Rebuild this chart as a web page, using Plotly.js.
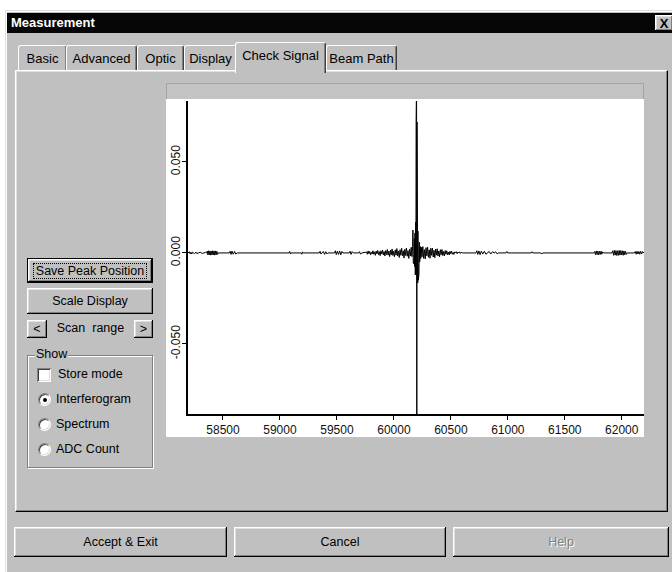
<!DOCTYPE html>
<html>
<head>
<meta charset="utf-8">
<script src="https://cdn.plot.ly/plotly-3.0.1.min.js"></script>
<style>
html, body { margin: 0; padding: 0; }
body { width: 672px; height: 572px; overflow: hidden; background: #fff; position: relative;
       font-family: "Liberation Sans", Arial, sans-serif; color: #000; }
.a { position: absolute; box-sizing: border-box; }
.raised { background: #c0c0c0;
  box-shadow: inset -1px -1px #000, inset 1px 1px #fff, inset -2px -2px #808080, inset 2px 2px #dfdfdf; }
.btn { display: flex; align-items: center; justify-content: center; font-size: 12.5px; white-space: pre; }
.tab { background: #c0c0c0; border-top: 1px solid #fff; border-left: 1px solid #fff; border-right: 1px solid #404040;
  border-radius: 3px 3px 0 0; box-shadow: inset -1px 0 #808080; font-size: 13px; line-height: 15px;
  text-align: center; padding-top: 5px; }
.lbl { font-size: 12.5px; line-height: 15px; white-space: pre; }
.radio { width: 13px; height: 13px; border-radius: 50%; background: #fff;
  border: 1px solid; border-color: #808080 #fff #fff #808080;
  box-shadow: inset 1px 1px #404040, inset -1px -1px #dfdfdf; }
.dot { position: absolute; left: 3.5px; top: 3.5px; width: 4px; height: 4px; border-radius: 50%; background: #000; }
</style>
</head>
<body>
<!-- dialog frame -->
<div class="a" style="left:5px;top:10px;width:667px;height:562px;background:#c0c0c0;box-shadow:inset 1px 1px #dfdfdf, inset 2px 2px #fff;"></div>
<!-- title bar -->
<div class="a" style="left:7px;top:13px;width:665px;height:20px;background:#050505;"></div>
<div class="a" style="left:11px;top:15px;font-weight:bold;font-size:13px;line-height:16px;color:#fff;">Measurement</div>
<div class="a raised btn" style="left:655px;top:15px;width:18px;height:16px;font-weight:bold;font-size:13px;">X</div>

<!-- tab strip -->
<div class="a tab" style="left:18px;top:45px;width:49px;height:26px;">Basic</div>
<div class="a tab" style="left:66px;top:45px;width:71px;height:26px;">Advanced</div>
<div class="a tab" style="left:137px;top:45px;width:47px;height:26px;">Optic</div>
<div class="a tab" style="left:184px;top:45px;width:53px;height:26px;">Display</div>
<div class="a tab" style="left:326px;top:45px;width:71px;height:26px;">Beam Path</div>

<!-- tab page -->
<div class="a" style="left:15px;top:70px;width:653px;height:442px;background:#c0c0c0;
  border-top:1px solid #fff;border-left:1px solid #fff;border-right:1px solid #000;border-bottom:1px solid #000;
  box-shadow:inset -1px -1px #808080, inset 1px 1px #dfdfdf;"></div>
<!-- active tab -->
<div class="a tab" style="left:235px;top:42px;width:91px;height:31px;padding-top:5px;z-index:2;">Check Signal</div>

<!-- signal plot frame -->
<div class="a" style="left:166px;top:83px;width:478px;height:17px;background:#c3c3c3;border:1px solid #a4a4a4;"></div>
<div class="a" id="plot" style="left:166px;top:99px;width:478px;height:338px;background:#fff;"></div>

<!-- controls on the left -->
<div class="a" style="left:27px;top:258px;width:126px;height:25px;border:1px solid #000;">
  <div class="a raised btn" style="left:0;top:0;width:124px;height:23px;">
    <span style="border:1px dotted #000;padding:0 2px;line-height:14px;">Save Peak Position</span>
  </div>
</div>
<div class="a raised btn" style="left:27px;top:288px;width:126px;height:26px;">Scale Display</div>
<div class="a raised btn" style="left:27px;top:320px;width:20px;height:18px;">&lt;</div>
<div class="a lbl" style="left:47px;top:321px;width:87px;text-align:center;">Scan  range</div>
<div class="a raised btn" style="left:134px;top:320px;width:19px;height:18px;">&gt;</div>

<div class="a" style="left:27px;top:355px;width:126px;height:113px;border:1px solid #808080;box-shadow:1px 1px 0 #fff, inset 1px 1px 0 #fff;"></div>
<div class="a lbl" style="left:35px;top:347px;background:#c0c0c0;padding:0 1px;">Show</div>

<div class="a" style="left:37px;top:368px;width:14px;height:14px;background:#fff;
  box-shadow:inset 1px 1px #808080, inset -1px -1px #fff, inset 2px 2px #404040, inset -2px -2px #dfdfdf;"></div>
<div class="a lbl" style="left:58px;top:367px;">Store mode</div>

<div class="a radio" style="left:38px;top:393px;"><div class="dot"></div></div>
<div class="a lbl" style="left:56px;top:392px;">Interferogram</div>
<div class="a radio" style="left:38px;top:418px;"></div>
<div class="a lbl" style="left:56px;top:417px;">Spectrum</div>
<div class="a radio" style="left:38px;top:443px;"></div>
<div class="a lbl" style="left:56px;top:442px;">ADC Count</div>

<!-- dialog buttons -->
<div class="a raised btn" style="left:14px;top:527px;width:213px;height:30px;">Accept &amp; Exit</div>
<div class="a raised btn" style="left:234px;top:527px;width:212px;height:30px;">Cancel</div>
<div class="a raised btn" style="left:453px;top:527px;width:216px;height:30px;color:#808080;text-shadow:1px 1px 0 #fff;">Help</div>

<script>
// Optical path position (x) and detector signal (y) of the interferogram
const opd = [
  58193, 58205, 58212, 58218, 58226, 58232, 58240, 58250, 58262, 58270, 58284, 58300, 58318, 58330, 58346, 58356,
  58362, 58368, 58374, 58380, 58386, 58392, 58398, 58404, 58410, 58416, 58422, 58428, 58434, 58440, 58446, 58452, 58458,
  58555, 58563, 58571, 58579, 58590, 58602, 58612, 58624,
  59080, 59086, 59092, 59098, 59186, 59192, 59198, 59204,
  59345, 59352, 59360, 59370, 59380, 59392, 59402, 59412, 59420,
  59478, 59486, 59494, 59504, 59514, 59524, 59534, 59544, 59552,
  59608, 59616, 59624, 59634, 59644,
  59690, 59698, 59706, 59720,
  59760, 59767, 59774, 59781, 59788, 59795, 59802, 59809, 59816, 59823,
  59830, 59837, 59844, 59851, 59858, 59865, 59872, 59879, 59886, 59893,
  59900, 59907, 59914, 59921, 59928, 59935, 59942, 59949, 59956, 59963,
  59970, 59977, 59984, 59991, 59998, 60005, 60012, 60019, 60026, 60033,
  60040, 60047, 60054, 60061, 60068, 60075, 60082, 60089, 60096, 60103,
  60110, 60117, 60124, 60131, 60138, 60145, 60152, 60158, 60164,
  60167, 60170, 60173, 60176, 60179, 60182, 60185, 60188, 60191, 60193,
  60195, 60197, 60199, 60201, 60203, 60205, 60207, 60209, 60211, 60214,
  60217, 60220, 60223, 60226, 60228, 60230, 60233, 60236,
  60240, 60247, 60254, 60261, 60268, 60275, 60282, 60289, 60296, 60303,
  60310, 60317, 60324, 60331, 60338, 60345, 60352, 60359, 60366, 60373,
  60380, 60387, 60394, 60401, 60408, 60415, 60422, 60429, 60436, 60443,
  60450, 60457, 60464, 60471, 60478, 60485, 60492, 60499, 60506, 60513,
  60520, 60527, 60534, 60541, 60548, 60555, 60562, 60569, 60576, 60583,
  60590, 60597, 60604,
  60720, 60728, 60736, 60746, 60756, 60768, 60780, 60794, 60808, 60822, 60836, 60850, 60866, 60880, 60894, 60906, 60916,
  60984, 60991, 60998, 61204, 61211, 61218, 61290, 61298, 61306,
  61755, 61762, 61769, 61776, 61783, 61790, 61797, 61804, 61811, 61818, 61825, 61832, 61840,
  61914, 61921, 61928, 61935, 61942, 61949, 61956, 61963, 61970, 61977,
  61984, 61991, 61998, 62005, 62012, 62019, 62026, 62033, 62040, 62047,
  62080, 62110, 62118, 62126, 62134, 62142, 62150, 62158, 62166, 62174, 62182, 62195
];
const signal = [
  0, 0.0006, -0.0005, 0.0004, -0.0006, 0.0005, 0, -0.0004, 0.0005, -0.0003, 0, 0.0004, -0.0003, 0, 0.0003, 0,
  0.0010, -0.0011, 0.0012, -0.0010, 0.0011, -0.0012, 0.0010, -0.0011, 0.0012, -0.0010, 0.0011, -0.0012, 0.0011, -0.0010, 0.0009, -0.0008, 0,
  0, 0.0009, -0.0008, 0.0010, -0.0007, 0.0008, -0.0006, 0,
  0, 0.0008, -0.0006, 0, 0, -0.0007, 0.0006, 0,
  0, 0.0009, -0.0006, 0, 0.0008, -0.0008, 0.0007, -0.0005, 0,
  0, 0.0012, -0.0009, 0.0010, -0.0008, 0.0011, -0.0010, 0.0008, 0,
  0, 0.0009, -0.0008, 0.0007, 0,
  0, 0.0007, -0.0006, 0,
  0.0005, -0.0007, 0.0011, -0.0004, 0.0008, -0.0010, 0.0004, -0.0006, 0.0012, -0.0007,
  0.0006, -0.0013, 0.0010, -0.0005, 0.0014, -0.0009, 0.0007, -0.0015, 0.0012, -0.0006,
  0.0016, -0.0011, 0.0008, -0.0017, 0.0013, -0.0009, 0.0019, -0.0012, 0.0010, -0.0020,
  0.0015, -0.0011, 0.0022, -0.0014, 0.0009, -0.0021, 0.0017, -0.0012, 0.0024, -0.0016,
  0.0011, -0.0025, 0.0018, -0.0013, 0.0026, -0.0015, 0.0012, -0.0028, 0.0020, -0.0014,
  0.0027, -0.0018, 0.0013, -0.0030, 0.0022, -0.0016, 0.0031, -0.0020, 0.0036,
  0.0126, -0.0055, 0.0050, -0.0060, 0.0080, -0.0075, 0.0110, -0.0120, 0.0170, -0.0120,
  0.0730, -0.0410, 0.0950, -0.0950, 0.0720, -0.0165, 0.0150, -0.0165, 0.0120, -0.0150,
  0.0080, -0.0120, 0.0060, -0.0050, 0.0060, -0.0022, 0.0035, -0.0030,
  0.0032, -0.0021, 0.0035, -0.0030, 0.0018, -0.0033, 0.0029, -0.0016, 0.0031, -0.0024,
  0.0017, -0.0029, 0.0026, -0.0013, 0.0027, -0.0022, 0.0014, -0.0026, 0.0021, -0.0012,
  0.0023, -0.0017, 0.0011, -0.0021, 0.0018, -0.0010, 0.0019, -0.0014, 0.0008, -0.0016,
  0.0013, -0.0007, 0.0012, -0.0010, 0.0005, -0.0011, 0.0009, -0.0004, 0.0010, -0.0007,
  0.0003, -0.0008, 0.0006, 0, 0.0007, -0.0004, 0.0005, 0, 0.0006, -0.0003,
  0.0004, 0, 0,
  0, 0.0012, -0.0008, 0.0011, -0.0009, 0.0010, -0.0006, 0.0009, -0.0007, 0, 0.0008, -0.0006, 0.0007, 0, 0.0006, -0.0005, 0,
  0, 0.0008, 0, 0, 0.0007, 0, 0, -0.0006, 0,
  0, 0.0008, -0.0010, 0.0011, -0.0009, 0.0010, -0.0011, 0.0009, -0.0008, 0.0010, -0.0007, 0.0006, 0,
  0, 0.0012, -0.0013, 0.0014, -0.0012, 0.0013, -0.0014, 0.0012, -0.0013, 0.0014,
  -0.0012, 0.0013, -0.0011, 0.0012, -0.0013, 0.0011, -0.0010, 0.0009, -0.0008, 0,
  0, 0, 0.0008, -0.0007, 0.0009, -0.0006, 0.0008, -0.0007, 0.0009, -0.0006, 0.0007, 0
];

const xTickVals = [58500, 59000, 59500, 60000, 60500, 61000, 61500, 62000];
const xTickText = ['58500', '59000', '59500', '60000', '60500', '61000', '61500', '62000'];
const yTickVals = [-0.05, 0, 0.05];
const yTickText = ['-0.050', '0.000', '0.050'];

const tickFont = { family: 'Liberation Sans, Arial, sans-serif', size: 12, color: '#111' };

Plotly.newPlot('plot', [{
  x: opd, y: signal, type: 'scatter', mode: 'lines',
  line: { color: '#000', width: 1 }, hoverinfo: 'skip'
}], {
  width: 478, height: 338,
  margin: { l: 22, r: 0, t: 2, b: 23, pad: 0 },
  paper_bgcolor: '#fff', plot_bgcolor: '#fff',
  showlegend: false,
  xaxis: {
    range: [58193, 62195], tickmode: 'array', tickvals: xTickVals, ticktext: xTickText,
    ticks: 'outside', ticklen: 4, tickwidth: 1, tickcolor: '#000',
    showline: true, linecolor: '#000', linewidth: 2, showgrid: false, zeroline: false,
    tickfont: tickFont
  },
  yaxis: {
    range: [-0.0885, 0.0835], tickmode: 'array', tickvals: yTickVals, ticktext: yTickText,
    tickangle: -90, ticks: 'outside', ticklen: 4, tickwidth: 1, tickcolor: '#000',
    ticklabelstandoff: -3,
    showline: true, linecolor: '#000', linewidth: 2, showgrid: false, zeroline: false,
    tickfont: tickFont
  }
}, { staticPlot: true, displayModeBar: false });
</script>
</body>
</html>
